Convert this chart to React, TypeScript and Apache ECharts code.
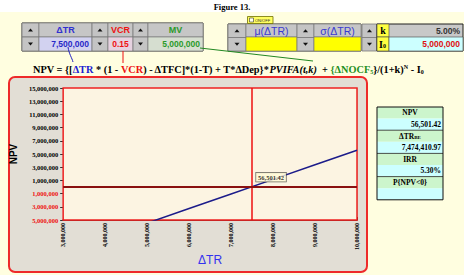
import React, { useEffect, useRef } from "react";
import * as echarts from "echarts";

// ---------- data ----------
const deltaTR = [3000000, 4000000, 5000000, 6000000, 7000000, 8000000, 9000000, 10000000];
const npvValues = [-9877000, -7669000, -5461000, -3253000, -1045000, 1162000, 3370000, 5578000];
const currentDeltaTR = 7500000;
const currentNPV = 56501.42;
const xTicks = { min: 3000000, max: 10000000, step: 1000000 };
const yTicks = { min: -5000000, max: 15000000, step: 2000000 };
const inputs = { dTR: "7,500,000", vcr: "0.15", mv: "5,000,000", k: "5.00%", i0: "5,000,000" };
const results = [
  ["NPV", "56,501.42"],
  ["ΔTR_BE", "7,474,410.97"],
  ["IRR", "5.30%"],
  ["P{NPV<0}", ""],
];

const SERIF = "'Liberation Serif', 'Times New Roman', serif";
const SANS = "'Liberation Sans', Arial, sans-serif";
const Y_SHIFT = -yTicks.min; // axis counted from 0 so ticks fall on -5M, -3M ...

const fmt = (n: number) => Math.round(Math.abs(n)).toLocaleString("en-US");

function rect(x: number, y: number, w: number, h: number, fill: string, stroke?: string, lw = 1, r = 0, z = 1): any {
  return { type: "rect", z, shape: { x, y, width: w, height: h, r }, style: { fill, stroke: stroke || null, lineWidth: stroke ? lw : 0 } };
}
function txt(x: number, y: number, text: string, font: string, fill: string, align = "center", z = 5, extra: any = {}): any {
  return { type: "text", z, x, y, style: { text, font, fill, align, verticalAlign: "middle", ...extra } };
}
function spin(x: number, y: number, w: number, h: number): any[] {
  const half = h / 2;
  const cx = x + w / 2;
  const out: any[] = [];
  out.push(rect(x, y, w, half, "#c4c4c4", "#7a7a7a", 0.8));
  out.push(rect(x, y + half, w, half, "#c4c4c4", "#7a7a7a", 0.8));
  const ty = y + half / 2;
  out.push({ type: "polygon", z: 6, shape: { points: [[cx - 2.5, ty + 1.5], [cx + 2.5, ty + 1.5], [cx, ty - 1.5]] }, style: { fill: "#111" } });
  const by = y + half + half / 2;
  out.push({ type: "polygon", z: 6, shape: { points: [[cx - 2.5, by - 1.5], [cx + 2.5, by - 1.5], [cx, by + 1.5]] }, style: { fill: "#111" } });
  return out;
}

function buildGraphics(): any[] {
  const g: any[] = [];
  // page background
  g.push(rect(0, 12, 464, 263, "#fffee0", undefined, 0, 0, -20));
  g.push(txt(232, 7, "Figure 13.", `bold 8.5px ${SERIF}`, "#000"));

  // ---- panel 1 ----
  const T = 23, M = 37, B = 51;
  g.push(rect(22, T, 181, B - T, "#9a9a9a", "#404040", 1));
  g.push(...spin(22, T, 17, B - T));
  g.push(rect(39, T, 53, M - T, "#c6c6c6", "#707070", 0.6));
  g.push(rect(39, M, 53, B - M, "#d2d2f0", "#707070", 0.6));
  g.push(txt(65.5, 30, "ΔTR", `bold 9px ${SANS}`, "#3030d0"));
  g.push(txt(89, 44, inputs.dTR, `bold 8.5px ${SANS}`, "#2828c8", "right"));
  g.push(...spin(92, T, 16, B - T));
  g.push(rect(108, T, 25, M - T, "#c6c6c6", "#707070", 0.6));
  g.push(rect(108, M, 25, B - M, "#e6d2e0", "#707070", 0.6));
  g.push(txt(120.5, 30, "VCR", `bold 9px ${SANS}`, "#ee1111"));
  g.push(txt(120.5, 44, inputs.vcr, `bold 8.5px ${SANS}`, "#ee1111"));
  g.push(...spin(133, T, 15, B - T));
  g.push(rect(148, T, 55, M - T, "#c6c6c6", "#707070", 0.6));
  g.push(rect(148, M, 55, B - M, "#d6ded0", "#707070", 0.6));
  g.push(txt(175.5, 30, "MV", `bold 9px ${SANS}`, "#2a9a2a"));
  g.push(txt(200, 44, inputs.mv, `bold 8.5px ${SANS}`, "#2a9a2a", "right"));

  // ---- panel 2 ----
  g.push(rect(228, T + 1, 133, B - T - 1, "#9a9a9a", "#404040", 1));
  g.push(...spin(228, T + 1, 18, B - T - 1));
  g.push(rect(246, T + 1, 51, M - T - 1, "#c6c6c6", "#707070", 0.6));
  g.push(rect(246, M, 51, B - M, "#ffff00", "#707070", 0.6));
  g.push(txt(271.5, 30.5, "μ(ΔTR)", `10.5px ${SANS}`, "#3a3ad0"));
  g.push(...spin(297, T + 1, 17, B - T - 1));
  g.push(rect(314, T + 1, 47, M - T - 1, "#c6c6c6", "#707070", 0.6));
  g.push(rect(314, M, 47, B - M, "#ffff00", "#707070", 0.6));
  g.push(txt(337.5, 30.5, "σ(ΔTR)", `10.5px ${SANS}`, "#3a3ad0"));
  g.push(...spin(362, T + 1, 15, B - T - 1));
  // k / I0 box
  g.push(rect(377, T + 1, 86, B - T - 1, "#c8c8c8", "#202020", 1));
  g.push(rect(377, T + 1, 12, M - T - 1, "#ffff40", "#404040", 0.6));
  g.push(rect(377, M, 12, B - M, "#ffff40", "#404040", 0.6));
  g.push(rect(389, M, 74, B - M, "#ccffff", "#404040", 0.6));
  g.push(txt(383, 30.5, "k", `bold 10px ${SERIF}`, "#000"));
  g.push({
    type: "text", z: 5, x: 379, y: 44,
    style: { text: "I{s|0}", font: `bold 10px ${SERIF}`, fill: "#000", align: "left", verticalAlign: "middle", rich: { s: { font: `bold 6px ${SERIF}`, fill: "#000", verticalAlign: "bottom", padding: [4, 0, 0, 0] } } },
  });
  g.push(txt(460, 30.5, inputs.k, `bold 8.5px ${SANS}`, "#333", "right"));
  g.push(txt(460, 44, inputs.i0, `bold 8.5px ${SANS}`, "#e01010", "right"));

  // ON/OFF box
  g.push(rect(247.5, 16.5, 25.5, 7, "#ffff60", "#707000", 0.8));
  g.push(rect(249.5, 18, 4, 4, "#fffff0", "#333", 0.6));
  g.push(txt(255, 20, "ON/OFF", `4px ${SANS}`, "#333", "left"));

  // connectors
  g.push({ type: "bezierCurve", z: 7, shape: { x1: 68, y1: 47, x2: 73, y2: 62, cpx1: 69, cpy1: 54, cpx2: 72, cpy2: 58 }, style: { stroke: "#2020c0", lineWidth: 1, fill: null } });
  g.push({ type: "line", z: 7, shape: { x1: 123, y1: 51, x2: 123, y2: 63 }, style: { stroke: "#ee1111", lineWidth: 1 } });
  g.push({ type: "line", z: 7, shape: { x1: 200, y1: 48, x2: 313, y2: 61 }, style: { stroke: "#228822", lineWidth: 1 } });

  // formula
  const FS = 10.3;
  g.push({
    type: "text", z: 5, x: 33, y: 69,
    style: {
      text: "NPV = {[{bl|ΔTR} * (1 - {rd|VCR}) - ΔTFC]*(1-T) + T*ΔDep}*{it|PVIFA(t,k)}  + {gr|{ΔNOCF}{gs|5}{gr|}}/(1+k){sp|N} - I{sb|0}",
      font: `bold ${FS}px ${SERIF}`, fill: "#000", align: "left", verticalAlign: "middle",
      rich: {
        bl: { font: `bold ${FS}px ${SERIF}`, fill: "#2020d0" },
        rd: { font: `bold ${FS}px ${SERIF}`, fill: "#ee1111" },
        gr: { font: `bold ${FS}px ${SERIF}`, fill: "#1f8f1f" },
        gs: { font: `bold 6px ${SERIF}`, fill: "#1f8f1f", verticalAlign: "bottom", padding: [4, 0, 0, 0] },
        it: { font: `italic bold ${FS}px ${SERIF}`, fill: "#000" },
        sp: { font: `bold 6px ${SERIF}`, fill: "#000", verticalAlign: "top", padding: [0, 0, 5, 0] },
        sb: { font: `bold 6px ${SERIF}`, fill: "#000", verticalAlign: "bottom", padding: [4, 0, 0, 0] },
      },
    },
  });

  // chart frame
  g.push(rect(9, 77, 358, 195, "#e2ded5", "#ee2a2a", 2, 6, -10));

  // results table
  const tx = 377, tw = 66, ty0 = 107, rh = 11.6;
  results.forEach((r, i) => {
    const y1 = ty0 + i * 2 * rh;
    g.push(rect(tx, y1, tw, rh, "#ccf5cc", undefined));
    g.push(rect(tx, y1 + rh, tw, rh, "#ccffff", undefined));
    if (r[0] === "ΔTR_BE") {
      g.push({
        type: "text", z: 5, x: tx + tw / 2, y: y1 + rh / 2,
        style: { text: "ΔTR{s|BE}", font: `bold 7.5px ${SERIF}`, fill: "#000", align: "center", verticalAlign: "middle", rich: { s: { font: `bold 5px ${SERIF}`, fill: "#000", verticalAlign: "bottom", padding: [3, 0, 0, 0] } } },
      });
    } else {
      g.push(txt(tx + tw / 2, y1 + rh / 2, r[0], `bold 7.5px ${SERIF}`, "#000"));
    }
    g.push(txt(tx + tw - 2, y1 + rh * 1.5, r[1], `bold 7.5px ${SERIF}`, "#000", "right"));
    if (i > 0) g.push({ type: "line", z: 6, shape: { x1: tx, y1, x2: tx + tw, y2: y1 }, style: { stroke: "#222", lineWidth: 0.8 } });
  });
  g.push({ type: "rect", z: 6, shape: { x: tx, y: ty0, width: tw, height: rh * 8 }, style: { fill: null, stroke: "#111", lineWidth: 1 } });
  return g;
}

export default function App() {
  const ref = useRef<HTMLDivElement>(null);
  useEffect(() => {
    document.body.style.margin = "0";
    if (!ref.current) return;
    const chart = echarts.init(ref.current, undefined, { renderer: "svg" });
    const lineData = deltaTR.map((x, i) => [x, npvValues[i] + Y_SHIFT]);
    chart.setOption({
      animation: false,
      backgroundColor: "#ffffff",
      graphic: { elements: buildGraphics() },
      grid: { left: 60, top: 88, width: 297, height: 146, show: true, backgroundColor: "#fcf4e2", borderColor: "#ee2222", borderWidth: 1.5, z: 1 },
      xAxis: {
        type: "value",
        min: xTicks.min,
        max: xTicks.max,
        interval: xTicks.step,
        name: "ΔTR",
        nameLocation: "middle",
        nameGap: 25,
        nameTextStyle: { color: "#3333ee", fontSize: 12, fontFamily: SANS },
        axisLine: { show: true, onZero: false, lineStyle: { color: "#4a0000", width: 1.5 } },
        axisTick: { show: true, inside: true, length: 3, lineStyle: { color: "#4a0000" } },
        minorTick: { show: true, splitNumber: 3, length: 2, lineStyle: { color: "#4a0000" } },
        splitLine: { show: true, lineStyle: { color: "#c2b6a4", width: 0.8 } },
        axisLabel: { rotate: 90, margin: 3, fontSize: 6, fontWeight: "bold", fontFamily: SERIF, color: "#000", formatter: (v: number) => fmt(v) },
      },
      yAxis: {
        type: "value",
        min: 0,
        max: yTicks.max + Y_SHIFT,
        interval: yTicks.step,
        name: "NPV",
        nameLocation: "middle",
        nameGap: 40,
        nameTextStyle: { color: "#000", fontSize: 10, fontWeight: "bold", fontFamily: SANS },
        axisLine: { show: false },
        axisTick: { show: true, length: 3, lineStyle: { color: "#333" } },
        splitLine: { show: true, lineStyle: { color: "#c2b6a4", width: 0.8 } },
        axisLabel: {
          margin: 5,
          fontSize: 6.5,
          fontWeight: "bold",
          fontFamily: SERIF,
          formatter: (v: number) => fmt(Number(v) - Y_SHIFT),
          color: (v: any) => (Number(v) - Y_SHIFT < 0 ? "#ee1111" : "#000"),
        },
      },
      series: [
        {
          type: "line",
          data: lineData,
          symbol: "none",
          clip: true,
          z: 3,
          lineStyle: { color: "#1c1c8a", width: 1.5 },
          markLine: {
            silent: true,
            symbol: ["none", "none"],
            label: { show: false },
            data: [
              { xAxis: currentDeltaTR, lineStyle: { color: "#ee1111", width: 1.5, type: "solid" } },
              { yAxis: Y_SHIFT, lineStyle: { color: "#8a1010", width: 1.8, type: "solid" } },
            ],
          },
        },
        {
          type: "scatter",
          data: [[currentDeltaTR, currentNPV + Y_SHIFT]],
          symbolSize: 0,
          z: 5,
          label: {
            show: true,
            position: [4, -14],
            formatter: () => currentNPV.toLocaleString("en-US", { minimumFractionDigits: 2 }),
            fontSize: 6.5,
            fontWeight: "bold",
            fontFamily: SERIF,
            color: "#000",
            backgroundColor: "#fffad6",
            borderColor: "#333",
            borderWidth: 0.6,
            padding: [1, 2],
          },
        },
      ],
    });
    return () => chart.dispose();
  }, []);
  return <div ref={ref} style={{ width: 464, height: 275, position: "absolute", left: 0, top: 0 }} />;
}
